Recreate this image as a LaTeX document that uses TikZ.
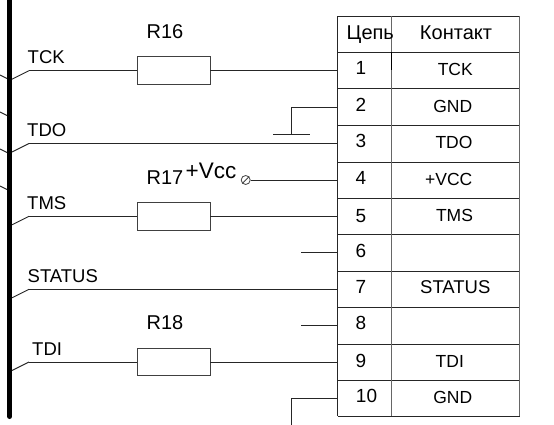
\documentclass[tikz,border=0pt]{standalone}
\usepackage{fontspec}
\setmainfont{Liberation Sans}
\tikzset{
  wire/.style={draw=black!85,line width=0.9pt},
  grid line/.style={draw=black!85,line width=1pt},
  col line/.style={draw=black!60,line width=1.1pt},
  resistor/.style={draw=black!75,line width=0.9pt,fill=white,minimum width=73pt,minimum height=27.5pt,inner sep=0pt},
  lab/.style={font=\fontsize{20}{22}\selectfont,inner sep=0pt,anchor=base},
  leftlab/.style={font=\fontsize{18.5}{20}\selectfont,inner sep=0pt,anchor=base west},
  cell/.style={font=\fontsize{17.5}{20}\selectfont,inner sep=0pt,anchor=base},
  num/.style={font=\fontsize{19}{20}\selectfont,inner sep=0pt,anchor=base}
}
\begin{document}
\begin{tikzpicture}[x=1pt,y=-1pt]
\useasboundingbox (0,0) rectangle (554,425);
% bus
\coordinate (bt) at (9.8,0);
\coordinate (bb) at (9.8,416.5);
\draw[line width=5pt,line cap=round] (bt) -- (bb);
% left stubs
\foreach \n/\y in {a/75,b/112,c/149,d/186}{
  \coordinate (s\n) at (0,\y);
  \coordinate (e\n) at (7,\y+3.5);
  \draw[wire] (s\n) -- (e\n);
}
% table rows
\foreach \n/\y in {0/16.3,1/52.3,2/89,3/125.7,4/162,5/198.3,6/234.3,7/271,8/307.3,9/344,10/380.3,11/416.3}{
  \coordinate (L\n) at (337.5,\y);
  \coordinate (R\n) at (519.5,\y);
  \draw[grid line] (L\n) -- (R\n);
}
\coordinate (M0) at (391.7,16.3);
\coordinate (M11) at (391.7,416.3);
\coordinate (M1) at (391.7,52.3);
\coordinate (Mt) at (391.7,70);
\draw[grid line] (L0) -- (L11);
\draw[col line] (R0) -- (R11);
\draw[col line] (M0) -- (M11);
\draw[draw=black,line width=1.1pt] (M1) -- (Mt);
% pin coordinates
\foreach \n/\y in {p1/70.7,p2/107.3,p3/143.5,p4/180,p5/216.3,p6/252.7,p7/289.3,p8/325.7,p9/362,p10/398.7}{
  \coordinate (\n) at (337.5,\y);
}
% resistors
\node[resistor] (r16) at (173.5,70.7) {};
\node[resistor] (r17) at (173.5,216.3) {};
\node[resistor] (r18) at (173.5,362) {};
% bends and bus taps
\foreach \n/\y in {tck/70.7,tdo/143.5,tms/216.3,sta/289.3,tdi/362}{
  \coordinate (k\n) at (29,\y);
  \coordinate (t\n) at (12,\y+8.5);
  \draw[wire] (t\n) -- (k\n);
}
\draw[wire] (ktck) -- (r16.west);
\draw[wire] (r16.east) -- (p1);
\draw[wire] (ktdo) -- (p3);
\draw[wire] (ktms) -- (r17.west);
\draw[wire] (r17.east) -- (p5);
\draw[wire] (ksta) -- (p7);
\draw[wire] (ktdi) -- (r18.west);
\draw[wire] (r18.east) -- (p9);
% ground on pin 2
\coordinate (g) at (291.7,134.7);
\coordinate (gl) at (273,134.7);
\coordinate (gr) at (310,134.7);
\draw[wire] (p2) -| (g);
\draw[wire] (gl) -- (gr);
% pin 10
\coordinate (g10) at (291.7,425);
\draw[wire] (p10) -| (g10);
% pin 4 terminal
\node[circle,draw=black!75,line width=0.8pt,minimum size=9pt,inner sep=0pt] (vt) at (245.7,180) {};
\draw[draw=black!75,line width=0.8pt] (vt.south west) -- (vt.north east);
\draw[wire] (vt.east) -- (p4);
% stubs 6, 8
\coordinate (f6) at (301,252.7);
\coordinate (f8) at (301,325.7);
\draw[wire] (f6) -- (p6);
\draw[wire] (f8) -- (p8);
% labels
\node[lab] (tr16) at (165,39) {R16};
\node[lab] (tr17) at (165,184) {R17};
\node[lab] (tr18) at (165,329.7) {R18};
\node[inner sep=0pt,anchor=base west,font=\fontsize{22.5}{24}\selectfont] (tv) at (185.5,178) {+Vcc};
\node[leftlab] (ltck) at (27.5,63.7) {TCK};
\node[leftlab] (ltdo) at (27,136.7) {TDO};
\node[leftlab] (ltms) at (27,209.5) {TMS};
\node[leftlab] (lsta) at (27.5,282.7) {STATUS};
\node[leftlab] (ltdi) at (32,355.3) {TDI};
% table text
\node[lab] (h1) at (370.3,39.3) {Цепь};
\node[lab] (h2) at (456,39.3) {Контакт};
\foreach \i/\y in {1/75,2/111.7,3/148,4/184,5/222,6/257,7/293.7,8/329.7,9/367,10/402.7}{
  \node[num] (n\i) at (\ifnum\i=10 366.5\else 361\fi,\y) {\i};
}
\node[cell] (c1) at (455.3,76) {TCK};
\node[cell] (c2) at (452.7,112.3) {GND};
\node[cell] (c3) at (454,149) {TDO};
\node[cell] (c4) at (448.7,185) {+VCC};
\node[cell] (c5) at (454.5,221.5) {TMS};
\node[cell,font=\fontsize{18.5}{20}\selectfont] (c7) at (455.3,293.7) {STATUS};
\node[cell] (c9) at (449.8,367) {TDI};
\node[cell] (c10) at (452.7,403.7) {GND};
\end{tikzpicture}
\end{document}
